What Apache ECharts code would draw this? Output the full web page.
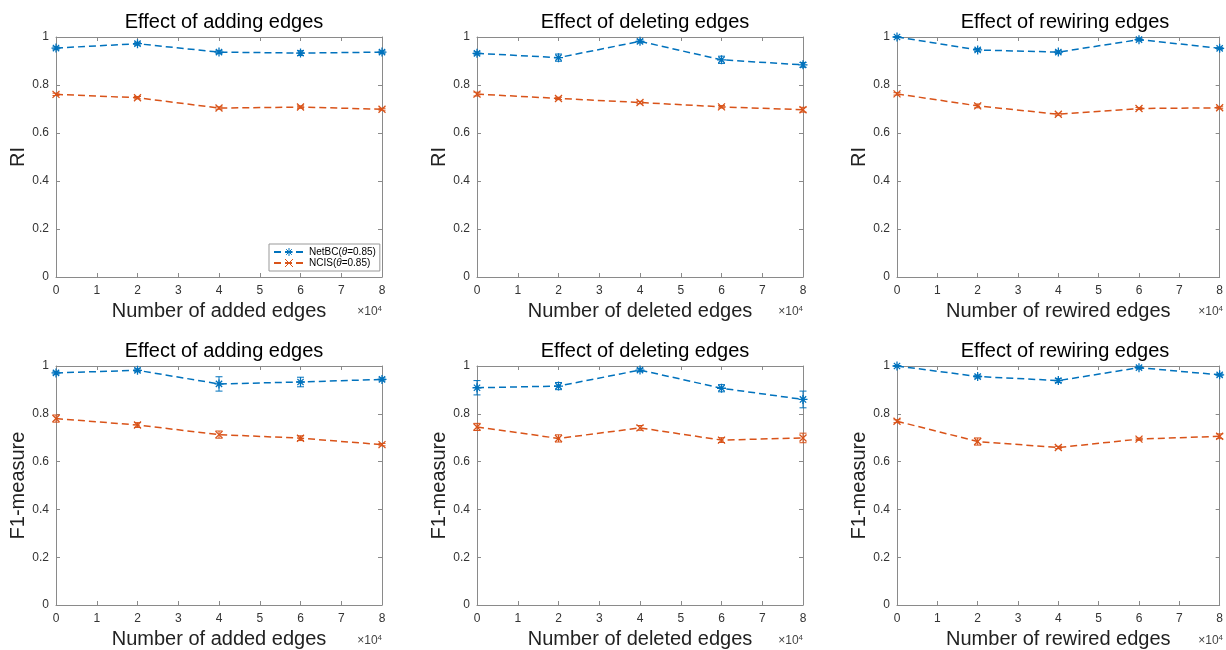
<!DOCTYPE html>
<html>
<head>
<meta charset="utf-8">
<script src="https://cdn.jsdelivr.net/npm/echarts@6/dist/echarts.min.js"></script>
<style>html,body{margin:0;padding:0;background:#fff}#c{width:1226px;height:650px}</style>
</head>
<body>
<div id="c"></div>
<script>
// x values (in units of 10^4)
const xValues = [0, 2, 4, 6, 8];
const xTicksMax = 8;
const yTicksMax = 1;

const seriesNames = ['NetBC(θ=0.85)', 'NCIS(θ=0.85)'];
const panelTitles = ['Effect of adding edges', 'Effect of deleting edges', 'Effect of rewiring edges',
                     'Effect of adding edges', 'Effect of deleting edges', 'Effect of rewiring edges'];
const xNames = ['Number of added edges', 'Number of deleted edges', 'Number of rewired edges',
                'Number of added edges', 'Number of deleted edges', 'Number of rewired edges'];
const yNames = ['RI', 'RI', 'RI', 'F1-measure', 'F1-measure', 'F1-measure'];

// RI – adding
const riAddNetBC = [0.954, 0.972, 0.937, 0.933, 0.937];
const riAddNetBCErr = [0.005, 0.006, 0.006, 0.010, 0.005];
const riAddNCIS = [0.761, 0.747, 0.704, 0.708, 0.699];
const riAddNCISErr = [0.005, 0.005, 0.005, 0.005, 0.004];
// RI – deleting
const riDelNetBC = [0.932, 0.914, 0.982, 0.905, 0.884];
const riDelNetBCErr = [0.006, 0.015, 0.006, 0.015, 0.010];
const riDelNCIS = [0.762, 0.744, 0.727, 0.709, 0.697];
const riDelNCISErr = [0.008, 0.005, 0.005, 0.005, 0.010];
// RI – rewiring
const riRewNetBC = [1.000, 0.946, 0.937, 0.989, 0.953];
const riRewNetBCErr = [0.002, 0.006, 0.006, 0.004, 0.004];
const riRewNCIS = [0.763, 0.713, 0.678, 0.702, 0.705];
const riRewNCISErr = [0.005, 0.008, 0.004, 0.004, 0.004];
// F1 – adding
const f1AddNetBC = [0.971, 0.982, 0.925, 0.933, 0.944];
const f1AddNetBCErr = [0.005, 0.006, 0.030, 0.020, 0.006];
const f1AddNCIS = [0.780, 0.753, 0.713, 0.698, 0.671];
const f1AddNCISErr = [0.015, 0.010, 0.015, 0.010, 0.005];
// F1 – deleting
const f1DelNetBC = [0.909, 0.916, 0.983, 0.907, 0.860];
const f1DelNetBCErr = [0.030, 0.015, 0.006, 0.015, 0.035];
const f1DelNCIS = [0.745, 0.697, 0.741, 0.690, 0.699];
const f1DelNCISErr = [0.015, 0.015, 0.010, 0.010, 0.020];
// F1 – rewiring
const f1RewNetBC = [1.000, 0.956, 0.939, 0.993, 0.963];
const f1RewNetBCErr = [0.002, 0.006, 0.008, 0.004, 0.004];
const f1RewNCIS = [0.769, 0.684, 0.659, 0.694, 0.706];
const f1RewNCISErr = [0.006, 0.015, 0.005, 0.005, 0.010];

const panelData = [
  [[riAddNetBC, riAddNetBCErr], [riAddNCIS, riAddNCISErr]],
  [[riDelNetBC, riDelNetBCErr], [riDelNCIS, riDelNCISErr]],
  [[riRewNetBC, riRewNetBCErr], [riRewNCIS, riRewNCISErr]],
  [[f1AddNetBC, f1AddNetBCErr], [f1AddNCIS, f1AddNCISErr]],
  [[f1DelNetBC, f1DelNetBCErr], [f1DelNCIS, f1DelNCISErr]],
  [[f1RewNetBC, f1RewNetBCErr], [f1RewNCIS, f1RewNCISErr]]
];

// ---- layout / style ----
const FONT = '"Liberation Sans", Arial, Helvetica, sans-serif';
const COLORS = ['#0072BD', '#D95319'];
const SYMBOLS = [
  'path://M5,0L5,10M0,5L10,5M1.5,1.5L8.5,8.5M1.5,8.5L8.5,1.5',
  'path://M0,0L10,10M0,10L10,0'
];
const LEFTS = [56, 477, 897];
const TOPS = [37, 366];
const W = 326, H = 240;
const AXIS_COLOR = '#8a8a8a';
const LABEL_COLOR = '#333';

const grids = [], xAxes = [], yAxes = [], series = [], titles = [], graphics = [];

for (let p = 0; p < 6; p++) {
  const left = LEFTS[p % 3], top = TOPS[Math.floor(p / 3)];
  grids.push({left: left, top: top, width: W, height: H, containLabel: false});
  titles.push({
    text: panelTitles[p], left: left + W / 2, top: top - 30, textAlign: 'center',
    textStyle: {fontFamily: FONT, fontSize: 20, fontWeight: 'normal', color: '#000'}
  });
  const axisCommon = {
    type: 'value', gridIndex: p, min: 0,
    axisLine: {show: true, onZero: false, lineStyle: {color: AXIS_COLOR, width: 1}},
    axisTick: {show: true, inside: true, length: 4, lineStyle: {color: AXIS_COLOR}},
    splitLine: {show: false}
  };
  xAxes.push(Object.assign({}, axisCommon, {
    position: 'bottom', max: xTicksMax, interval: 1,
    axisLabel: {show: true, margin: 8, color: LABEL_COLOR, fontSize: 12, fontFamily: FONT},
    name: xNames[p], nameLocation: 'middle', nameGap: 24,
    nameTextStyle: {fontFamily: FONT, fontSize: 20, color: '#222'}
  }));
  xAxes.push(Object.assign({}, axisCommon, {
    position: 'top', max: xTicksMax, interval: 1, axisLabel: {show: false}
  }));
  yAxes.push(Object.assign({}, axisCommon, {
    position: 'left', max: yTicksMax, interval: 0.2,
    axisLabel: {show: true, margin: 7, color: LABEL_COLOR, fontSize: 12, fontFamily: FONT},
    name: yNames[p], nameLocation: 'middle', nameGap: 22,
    nameTextStyle: {fontFamily: FONT, fontSize: 20, color: '#222'}
  }));
  yAxes.push(Object.assign({}, axisCommon, {
    position: 'right', max: yTicksMax, interval: 0.2, axisLabel: {show: false}
  }));

  for (let s = 0; s < 2; s++) {
    const vals = panelData[p][s][0], errs = panelData[p][s][1];
    const color = COLORS[s];
    series.push({
      type: 'custom', xAxisIndex: 2 * p, yAxisIndex: 2 * p, silent: true, z: 3,
      data: xValues.map((x, i) => [x, vals[i], errs[i]]),
      encode: {x: 0, y: 1},
      renderItem: function (params, api) {
        const x = api.value(0), y = api.value(1), e = api.value(2);
        const a = api.coord([x, y + e]), b = api.coord([x, y - e]);
        const cw = 3.5;
        const st = {stroke: color, lineWidth: 1};
        return {type: 'group', children: [
          {type: 'line', shape: {x1: a[0], y1: a[1], x2: b[0], y2: b[1]}, style: st},
          {type: 'line', shape: {x1: a[0] - cw, y1: a[1], x2: a[0] + cw, y2: a[1]}, style: st},
          {type: 'line', shape: {x1: b[0] - cw, y1: b[1], x2: b[0] + cw, y2: b[1]}, style: st}
        ]};
      }
    });
    series.push({
      type: 'line', name: seriesNames[s], xAxisIndex: 2 * p, yAxisIndex: 2 * p, z: 4,
      data: xValues.map((x, i) => [x, vals[i]]),
      symbol: SYMBOLS[s], symbolSize: s === 0 ? 9 : 7, showSymbol: true,
      lineStyle: {color: color, width: 1.5, type: [7, 4]},
      itemStyle: {color: color, borderColor: color, borderWidth: 1.3},
      emphasis: {disabled: true}
    });
  }

  graphics.push({
    type: 'text', right: 1226 - (left + W), top: top + H + 28,
    style: {
      text: '{a|×10}{b|4}', fill: '#444',
      rich: {a: {fontSize: 12, fontFamily: FONT, fill: '#444'}, b: {fontSize: 8, fontFamily: FONT, fill: '#444', verticalAlign: 'top', padding: [0, 0, 6, 0]}}
    }
  });
}

const chart = echarts.init(document.getElementById('c'), null, {renderer: 'canvas'});
chart.setOption({
  animation: false,
  backgroundColor: '#fff',
  title: titles,
  grid: grids,
  xAxis: xAxes,
  yAxis: yAxes,
  legend: {
    data: seriesNames, orient: 'vertical', left: 269, top: 244,
    itemWidth: 30, itemHeight: 10, itemGap: 1, padding: [3, 4, 3, 4],
    borderColor: '#999', borderWidth: 1, backgroundColor: '#fff',
    itemStyle: {borderWidth: 1},
    textStyle: {
      fontFamily: FONT, fontSize: 10, color: '#000',
      rich: {n: {fontFamily: FONT, fontSize: 10, color: '#000'}, i: {fontFamily: FONT, fontSize: 10, color: '#000', fontStyle: 'italic'}}
    },
    formatter: function (name) {
      const parts = name.split('θ');
      return '{n|' + parts[0] + '}{i|θ}{n|' + parts[1] + '}';
    }
  },
  graphic: graphics,
  series: series
});
</script>
</body>
</html>
